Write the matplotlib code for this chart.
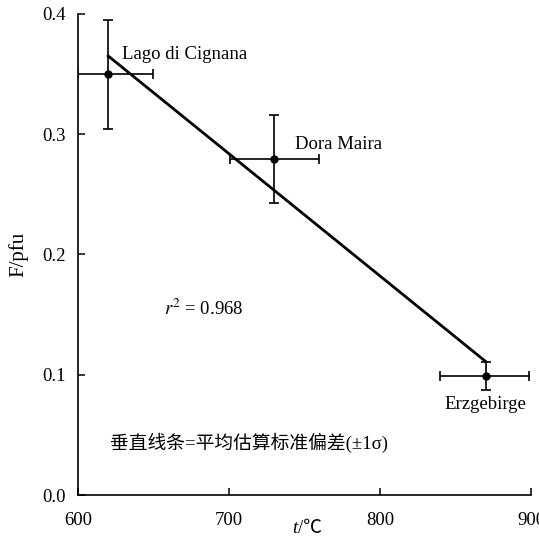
import matplotlib.pyplot as plt

plt.rcParams["font.family"] = ["Liberation Serif", "Noto Sans CJK SC"]
plt.rcParams["mathtext.fontset"] = "stix"

# sample points (t in degC, F in pfu)
sites = ["Lago di Cignana", "Dora Maira", "Erzgebirge"]
t_vals = [620, 730, 870]
f_vals = [0.35, 0.279, 0.099]
t_lo = [20, 29.5, 30.5]
t_hi = [30, 29.5, 28.5]
f_lo = [0.046, 0.036, 0.012]
f_hi = [0.045, 0.037, 0.012]

# regression line ends
line_t = [620, 870]
line_f = [0.365, 0.111]

x_ticks = [600, 700, 800, 900]
y_ticks = [0.0, 0.1, 0.2, 0.3, 0.4]

fs = 13.5

fig = plt.figure(figsize=(5.39, 5.55), dpi=100)
ax = fig.add_axes([0.1447, 0.108, 0.8405, 0.867])

ax.plot(line_t, line_f, color="black", linewidth=2, zorder=2)
ax.errorbar(
    t_vals, f_vals,
    xerr=[t_lo, t_hi], yerr=[f_lo, f_hi],
    fmt="o", color="black", markersize=5,
    elinewidth=1.2, capsize=3.5, capthick=1.2, zorder=3,
)

# labels next to the points
ax.text(629, 0.359, sites[0], fontsize=fs, ha="left", va="bottom")
ax.text(744, 0.284, sites[1], fontsize=fs, ha="left", va="bottom")
ax.text(897, 0.082, sites[2], fontsize=fs, ha="right", va="top")

ax.text(657, 0.155, r"$r^2$ = 0.968", fontsize=fs, ha="left", va="center")
ax.text(621, 0.043, "垂直线条=平均估算标准偏差(±1σ)", fontsize=fs,
        ha="left", va="center")

ax.set_xlim(600, 900)
ax.set_ylim(0, 0.4)
ax.set_xticks(x_ticks)
ax.set_yticks(y_ticks)
ax.set_yticklabels(["%.1f" % v for v in y_ticks])
ax.tick_params(direction="in", length=5, width=1.1, labelsize=fs)
ax.tick_params(axis="x", pad=12)
ax.tick_params(axis="y", pad=9)

for s in ["top", "right"]:
    ax.spines[s].set_visible(False)
for s in ["left", "bottom"]:
    ax.spines[s].set_linewidth(1.2)

# x label: italic t plus upright unit
ax.text(0.485, -0.07, "t", fontsize=fs, style="italic", ha="right",
        va="center", transform=ax.transAxes)
ax.text(0.485, -0.07, "/℃", fontsize=fs, ha="left", va="center",
        transform=ax.transAxes)
ax.set_ylabel("F/pfu", fontsize=15, labelpad=10)

plt.savefig("out.png", dpi=100)
